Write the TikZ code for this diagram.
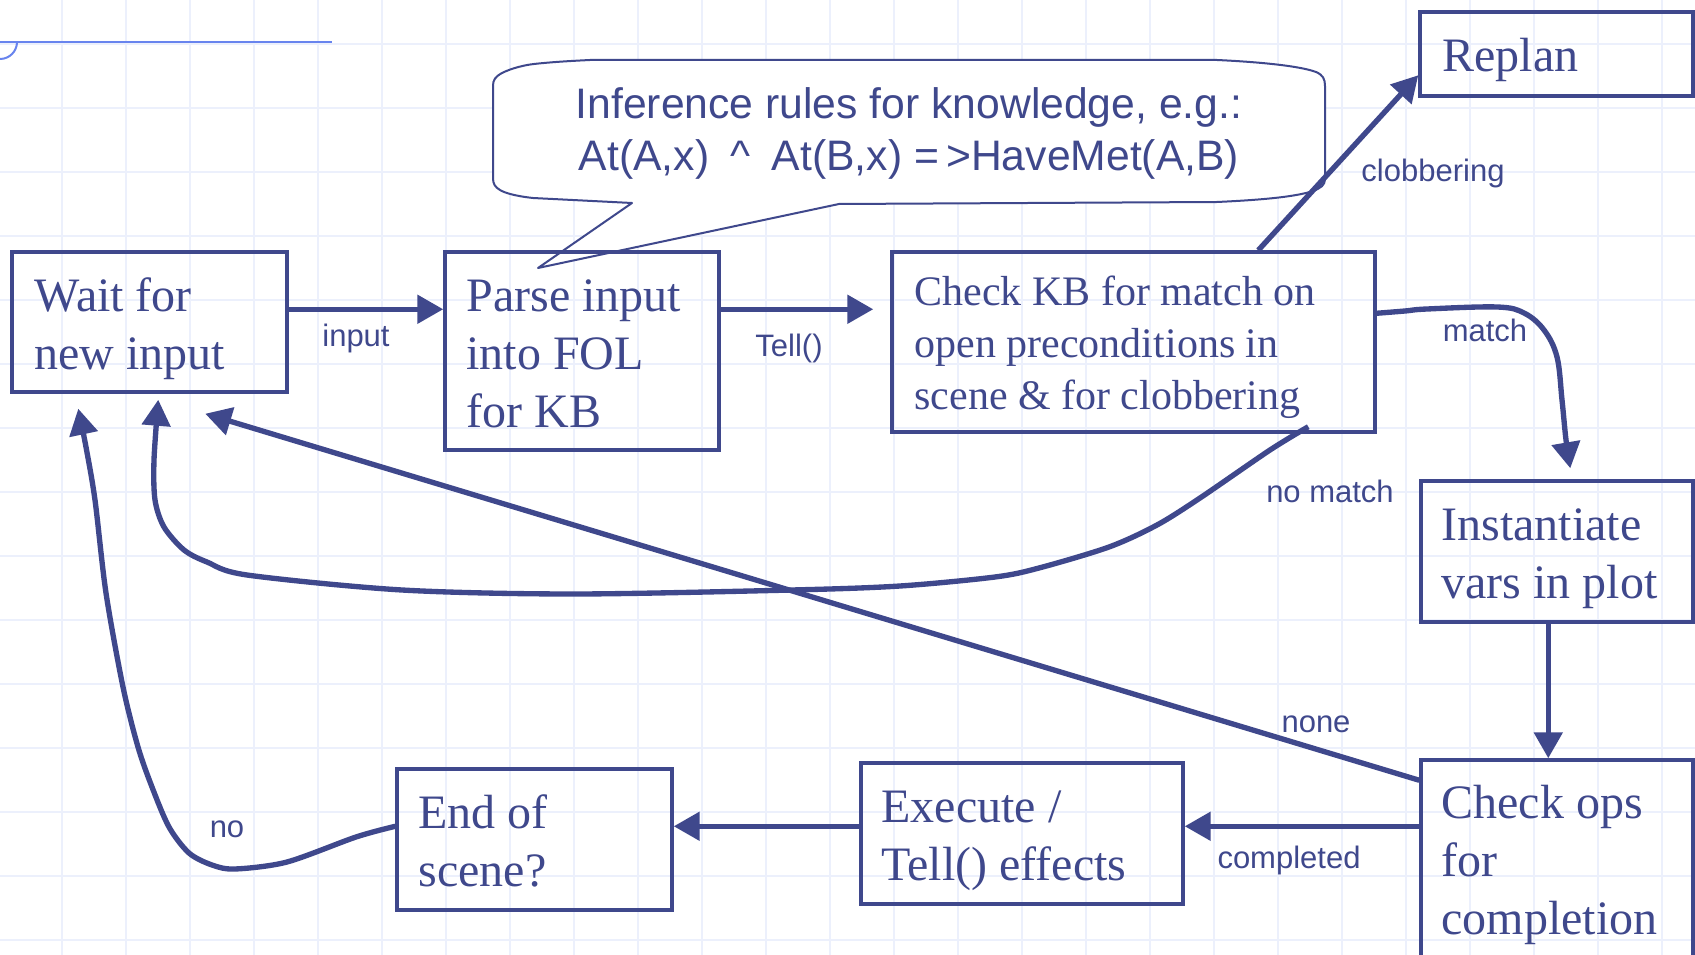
\documentclass[tikz,border=0pt]{standalone}
\usepackage{fontspec}
\setmainfont{Liberation Serif}
\newfontfamily\sansfam{Liberation Sans}
\usetikzlibrary{arrows.meta,calc,fit}
\definecolor{navy}{RGB}{63,72,140}
\definecolor{gridblue}{RGB}{236,240,252}
\definecolor{rulerblue}{RGB}{104,132,238}
\tikzset{
  stepbox/.style={draw=navy, line width=2.6pt, inner sep=0pt},
  boxtext/.style={anchor=base west, inner sep=0pt, text=navy, text width=225pt,
    align=flush left, font=\fontsize{36}{43.5}\selectfont},
  flow/.style={draw=navy, line width=4pt, line join=round,
    -{Triangle[length=19.5pt,width=21pt]}},
  edgelabel/.style={anchor=base, inner sep=0pt, text=navy,
    font=\sansfam\fontsize{23.25}{28}\selectfont},
}
\begin{document}
\begin{tikzpicture}[x=0.75pt,y=-0.75pt]
\useasboundingbox (0,0) rectangle (1695,955);
\fill[white] (0,0) rectangle (1695,955);

% squared paper
\begin{scope}
  \clip (0,0) rectangle (1695,955);
  \foreach \gx in {0,...,26}
    \draw[gridblue, line width=1.5pt] ({-2+64*\gx},0) -- ({-2+64*\gx},955);
  \foreach \gy in {0,...,14}
    \draw[gridblue, line width=1.5pt] (0,{44+64*\gy}) -- (1695,{44+64*\gy});
  % ruler stroke in the corner
  \draw[rulerblue, line width=1.5pt] (0,42) -- (332,42);
  \draw[rulerblue, line width=1.5pt] (17,42) arc[start angle=0, end angle=90, radius=17];
\end{scope}

% speech bubble
\draw[navy, line width=1.5pt, fill=white, line join=round]
  (590,60) -- (1217,60)
  .. controls (1260,62) and (1300,66) .. (1316,72)
  .. controls (1323,75) and (1325,79) .. (1325,86)
  -- (1325,179)
  .. controls (1325,185) and (1321,188) .. (1313,191)
  .. controls (1295,197) and (1260,200) .. (1217,202)
  -- (839,204) -- (538,268) -- (632,203) -- (533,198)
  .. controls (515,196) and (505,193) .. (500,190)
  .. controls (495,187) and (493,184) .. (493,178)
  -- (493,86)
  .. controls (493,80) and (495,77) .. (502,73)
  .. controls (512,68) and (525,65) .. (534,64)
  .. controls (552,62) and (570,61) .. (590,60) -- cycle;
\node[anchor=base, inner sep=0pt, text width=570pt, align=flush center, text=navy,
      font=\sansfam\fontsize{32}{39}\selectfont] (rules) at (909,119)
  {Inference rules for knowledge, e.g.:\\At(A,x)\hspace{0.5em}\textasciicircum\hspace{0.5em}At(B,x) =\,>HaveMet(A,B)};

% process boxes
\node[stepbox, fit={(12,252) (287,392)}] (wait) {};
\node[stepbox, fit={(445,252) (719,450)}] (parse) {};
\node[stepbox, fit={(892,252) (1375,432)}] (checkkb) {};
\node[stepbox, fit={(1420,12) (1693,96)}] (replan) {};
\node[stepbox, fit={(1421,481) (1693,622)}] (inst) {};
\node[stepbox, fit={(1421,760) (1693,985)}] (checkops) {};
\node[stepbox, fit={(861,763) (1183,904)}] (exec) {};
\node[stepbox, fit={(397,769) (672,910)}] (endscene) {};

\node[boxtext] (waittext) at ($(wait.north west)+(24,61)$) {Wait for\\new input};
\node[boxtext] (parsetext) at ($(parse.north west)+(23,61)$) {Parse input\\into FOL\\for KB};
\node[boxtext, text width=337.5pt, font=\fontsize{31.5}{39}\selectfont] (checkkbtext)
  at ($(checkkb.north west)+(24,55)$) {Check KB for match on\\open preconditions in\\scene \& for clobbering};
\node[boxtext] (replantext) at ($(replan.north west)+(24,61)$) {Replan};
\node[boxtext] (insttext) at ($(inst.north west)+(22,61)$) {Instantiate\\vars in plot};
\node[boxtext] (checkopstext) at ($(checkops.north west)+(22,60)$) {Check ops\\for\\completion};
\node[boxtext] (exectext) at ($(exec.north west)+(22,61)$) {Execute /\\Tell() effects};
\node[boxtext] (endtext) at ($(endscene.north west)+(23,61)$) {End of\\scene?};

% end points of the curved connectors
\coordinate (matchstart) at ($(checkkb.north east)+(0,63)$);
\coordinate (matchend) at ($(inst.north west)+(151,-11)$);
\coordinate (nomatchstart) at ($(checkkb.south west)+(418,-7)$);
\coordinate (nomatchend) at ($(wait.south west)+(148,6)$);
\coordinate (nostart) at ($(endscene.north west)+(0,59)$);
\coordinate (noend) at ($(wait.south west)+(68,15)$);

% connectors
\draw[flow] ($(wait.north east)+(0,59)$) -- ($(parse.north west)+(0,59)$);
\draw[flow] ($(parse.north east)+(0,59)$) -- ($(checkkb.north west)+(-17,59)$);
\draw[flow] ($(checkkb.north west)+(368,0)$) -- ($(replan.north west)+(0,65)$);
\draw[flow] plot[smooth, tension=0.6] coordinates {(matchstart) (1405,311) (1427,309)
  (1497,307) (1524,313) (1544,330) (1557,357) (1562,400) (1566,440) (matchend)};
\draw[flow] plot[smooth, tension=0.5] coordinates {(nomatchstart) (1270,450) (1200,498)
  (1157,525) (1109,547) (1039,568) (995,577) (900,586) (792,590) (574,594) (402,590)
  (247,575) (207,562) (184,550) (164,527) (155,500) (154,460) (nomatchend)};
\draw[flow] ($(checkops.north west)+(0,22)$) -- ($(wait.south west)+(195,20)$);
\draw[flow] ($(inst.south west)+(129,0)$) -- ($(checkops.north west)+(129,0)$);
\draw[flow] ($(checkops.north west)+(0,68)$) -- ($(exec.north east)+(0,65)$);
\draw[flow] ($(exec.north west)+(0,65)$) -- ($(endscene.north east)+(0,59)$);
\draw[flow] plot[smooth, tension=0.5] coordinates {(nostart) (356,837) (287,862)
  (235,869) (212,865) (189,853) (169,827) (152,787) (138,747) (123,687) (106,593)
  (95,500) (86,447) (noend)};

% connector labels
\node[edgelabel] (linput) at (356,347) {input};
\node[edgelabel] (ltell) at (789,357) {Tell()};
\node[edgelabel] (lclob) at (1433,182) {clobbering};
\node[edgelabel] (lmatch) at (1485,342) {match};
\node[edgelabel] (lnomatch) at (1330,502) {no match};
\node[edgelabel] (lnone) at (1316,732) {none};
\node[edgelabel] (lcompleted) at (1289,868) {completed};
\node[edgelabel] (lno) at (227,837) {no};
\end{tikzpicture}
\end{document}
